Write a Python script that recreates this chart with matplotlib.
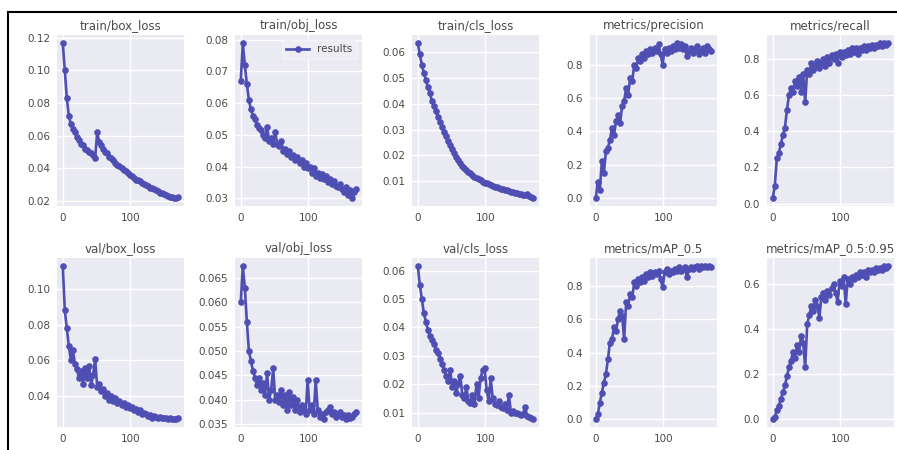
import matplotlib
matplotlib.use("Agg")
import matplotlib.pyplot as plt
from matplotlib.lines import Line2D
from matplotlib.ticker import MultipleLocator

epochs = list(range(0, 172, 3))

titles = ["train/box_loss", "train/obj_loss", "train/cls_loss", "metrics/precision", "metrics/recall",
          "val/box_loss", "val/obj_loss", "val/cls_loss", "metrics/mAP_0.5", "metrics/mAP_0.5:0.95"]

train_box = [0.117, 0.100, 0.083, 0.072, 0.067, 0.064, 0.062, 0.059, 0.057, 0.055,
             0.054, 0.052, 0.051, 0.050, 0.049, 0.048, 0.0465, 0.062, 0.056, 0.054,
             0.052, 0.050, 0.049, 0.047, 0.046, 0.045, 0.043, 0.042, 0.041, 0.040,
             0.039, 0.038, 0.037, 0.036, 0.035, 0.034, 0.033, 0.0325, 0.032, 0.031,
             0.030, 0.0295, 0.029, 0.028, 0.0275, 0.027, 0.0265, 0.026, 0.025, 0.0245,
             0.024, 0.0235, 0.023, 0.0225, 0.022, 0.0218, 0.0215, 0.022]
train_obj = [0.067, 0.079, 0.072, 0.066, 0.061, 0.058, 0.056, 0.055, 0.053, 0.052,
             0.0515, 0.050, 0.049, 0.0525, 0.048, 0.049, 0.047, 0.051, 0.047, 0.0465,
             0.048, 0.045, 0.0455, 0.044, 0.045, 0.043, 0.0435, 0.042, 0.043, 0.041,
             0.042, 0.040, 0.041, 0.0395, 0.040, 0.038, 0.0395, 0.037, 0.038, 0.0365,
             0.0375, 0.036, 0.037, 0.035, 0.036, 0.0345, 0.0355, 0.034, 0.0335, 0.0345,
             0.033, 0.032, 0.0335, 0.031, 0.0325, 0.030, 0.032, 0.033]
train_cls = [0.0635, 0.059, 0.055, 0.052, 0.049, 0.0465, 0.044, 0.041, 0.039, 0.037,
             0.035, 0.033, 0.031, 0.029, 0.0275, 0.0255, 0.024, 0.0225, 0.021, 0.0195,
             0.0183, 0.017, 0.016, 0.0153, 0.0145, 0.0138, 0.0131, 0.0125, 0.0118, 0.0113,
             0.0108, 0.0104, 0.0099, 0.0095, 0.0092, 0.0088, 0.0085, 0.0082, 0.0079, 0.0077,
             0.0075, 0.0072, 0.0070, 0.0067, 0.0065, 0.0062, 0.0060, 0.0058, 0.0056, 0.0054,
             0.0052, 0.0050, 0.0048, 0.0046, 0.0050, 0.0042, 0.0038, 0.0035]
precision = [0.00, 0.10, 0.05, 0.22, 0.15, 0.28, 0.30, 0.35, 0.42, 0.38,
             0.46, 0.50, 0.45, 0.55, 0.58, 0.66, 0.62, 0.72, 0.70, 0.80,
             0.78, 0.84, 0.82, 0.86, 0.84, 0.88, 0.86, 0.89, 0.87, 0.90,
             0.88, 0.92, 0.86, 0.80, 0.89, 0.87, 0.90, 0.88, 0.91, 0.89,
             0.93, 0.90, 0.92, 0.89, 0.91, 0.85, 0.88, 0.90, 0.87, 0.89,
             0.91, 0.86, 0.88, 0.90, 0.87, 0.91, 0.89, 0.88]
recall = [0.03, 0.10, 0.25, 0.28, 0.33, 0.38, 0.42, 0.52, 0.60, 0.64,
          0.62, 0.68, 0.65, 0.70, 0.62, 0.72, 0.56, 0.74, 0.72, 0.78,
          0.74, 0.76, 0.79, 0.75, 0.78, 0.80, 0.76, 0.81, 0.78, 0.82,
          0.80, 0.83, 0.78, 0.84, 0.81, 0.84, 0.82, 0.85, 0.83, 0.86,
          0.84, 0.86, 0.83, 0.86, 0.85, 0.87, 0.85, 0.87, 0.86, 0.88,
          0.86, 0.88, 0.87, 0.89, 0.87, 0.89, 0.88, 0.89]
val_box = [0.113, 0.088, 0.078, 0.068, 0.060, 0.066, 0.058, 0.055, 0.050, 0.054,
           0.047, 0.056, 0.050, 0.057, 0.046, 0.052, 0.061, 0.045, 0.047, 0.043,
           0.044, 0.040, 0.042, 0.038, 0.040, 0.037, 0.039, 0.036, 0.037, 0.035,
           0.036, 0.034, 0.035, 0.0335, 0.034, 0.032, 0.033, 0.031, 0.032, 0.030,
           0.0305, 0.030, 0.029, 0.0295, 0.028, 0.029, 0.0285, 0.028, 0.0285, 0.0278,
           0.028, 0.0275, 0.027, 0.0278, 0.027, 0.0272, 0.027, 0.028]
val_obj = [0.060, 0.0675, 0.063, 0.056, 0.050, 0.048, 0.046, 0.0445, 0.043, 0.0445,
           0.042, 0.0435, 0.041, 0.0455, 0.040, 0.042, 0.0465, 0.040, 0.041, 0.0395,
           0.042, 0.039, 0.041, 0.038, 0.0415, 0.039, 0.0405, 0.038, 0.040, 0.0375,
           0.039, 0.038, 0.037, 0.044, 0.038, 0.039, 0.037, 0.044, 0.038, 0.0365,
           0.037, 0.036, 0.0375, 0.038, 0.0385, 0.037, 0.0375, 0.0365, 0.037, 0.0375,
           0.0365, 0.0368, 0.036, 0.0368, 0.0362, 0.0365, 0.037, 0.0375]
val_cls = [0.0617, 0.055, 0.050, 0.045, 0.042, 0.039, 0.037, 0.0355, 0.034, 0.032,
           0.031, 0.029, 0.027, 0.025, 0.023, 0.021, 0.025, 0.019, 0.021, 0.017,
           0.020, 0.023, 0.016, 0.015, 0.019, 0.014, 0.0135, 0.016, 0.013, 0.020,
           0.015, 0.022, 0.025, 0.0255, 0.018, 0.014, 0.022, 0.015, 0.013, 0.0125,
           0.014, 0.012, 0.0115, 0.013, 0.011, 0.016, 0.010, 0.0105, 0.0098, 0.010,
           0.0095, 0.0092, 0.0095, 0.012, 0.0088, 0.0085, 0.008, 0.0076]
map50 = [0.00, 0.03, 0.10, 0.16, 0.22, 0.27, 0.36, 0.46, 0.48, 0.55,
         0.53, 0.60, 0.65, 0.62, 0.48, 0.70, 0.68, 0.75, 0.73, 0.82,
         0.80, 0.84, 0.82, 0.85, 0.83, 0.87, 0.85, 0.88, 0.86, 0.88,
         0.87, 0.89, 0.84, 0.79, 0.88, 0.90, 0.87, 0.89, 0.88, 0.90,
         0.89, 0.91, 0.89, 0.90, 0.91, 0.85, 0.90, 0.91, 0.90, 0.91,
         0.92, 0.90, 0.92, 0.91, 0.92, 0.91, 0.92, 0.91]
map50_95 = [0.00, 0.01, 0.04, 0.06, 0.09, 0.12, 0.15, 0.19, 0.23, 0.26,
            0.30, 0.27, 0.33, 0.30, 0.37, 0.34, 0.23, 0.42, 0.46, 0.50,
            0.48, 0.53, 0.50, 0.45, 0.54, 0.56, 0.53, 0.57, 0.55, 0.58,
            0.60, 0.56, 0.52, 0.61, 0.59, 0.63, 0.51, 0.62, 0.60, 0.63,
            0.62, 0.64, 0.63, 0.65, 0.64, 0.65, 0.63, 0.66, 0.65, 0.66,
            0.65, 0.67, 0.66, 0.67, 0.66, 0.68, 0.67, 0.68]

series = [train_box, train_obj, train_cls, precision, recall,
          val_box, val_obj, val_cls, map50, map50_95]
ystep = [0.02, 0.01, 0.01, 0.2, 0.2, 0.02, 0.005, 0.01, 0.2, 0.2]

W, H = 897, 450
fig = plt.figure(figsize=(W / 100, H / 100), dpi=100)
fig.patch.set_facecolor("white")

lefts = [57, 235, 412, 590, 767]
aw = 127
rows = [(35, 206), (258, 427)]
color = "#4F4FB3"
txtc = "#4a4a4a"

for i, (title, ys) in enumerate(zip(titles, series)):
    r, c = divmod(i, 5)
    top, bot = rows[r]
    ax = fig.add_axes([lefts[c] / W, 1 - bot / H, aw / W, (bot - top) / H])
    ax.set_facecolor("#EAEAF2")
    for s in ax.spines.values():
        s.set_visible(False)
    ax.grid(True, color="white", linewidth=1.0)
    ax.set_axisbelow(True)
    ax.plot(epochs, ys, marker=".", linewidth=1.9, markersize=7.5, color=color, label="results")
    ax.set_xticks([0, 100])
    ax.yaxis.set_major_locator(MultipleLocator(ystep[i]))
    ax.tick_params(length=0, labelsize=7.5, labelcolor=txtc, pad=5)
    ax.set_title(title, fontsize=8.5, color=txtc, pad=4)
    if i == 1:
        ax.legend(loc="upper right", fontsize=7.5, frameon=True, facecolor="#EEEEF4",
                  edgecolor="#F4F4F8", framealpha=0.9, labelcolor=txtc,
                  handlelength=2.2, borderpad=0.4)

# page border lines from the source document
fig.add_artist(Line2D([8 / W, 1.0], [1 - 12 / H, 1 - 12 / H], color="black", linewidth=1.5,
                      transform=fig.transFigure))
fig.add_artist(Line2D([8 / W, 8 / W], [0.0, 1 - 12 / H], color="black", linewidth=1.5,
                      transform=fig.transFigure))

fig.savefig("out.png", dpi=100)
